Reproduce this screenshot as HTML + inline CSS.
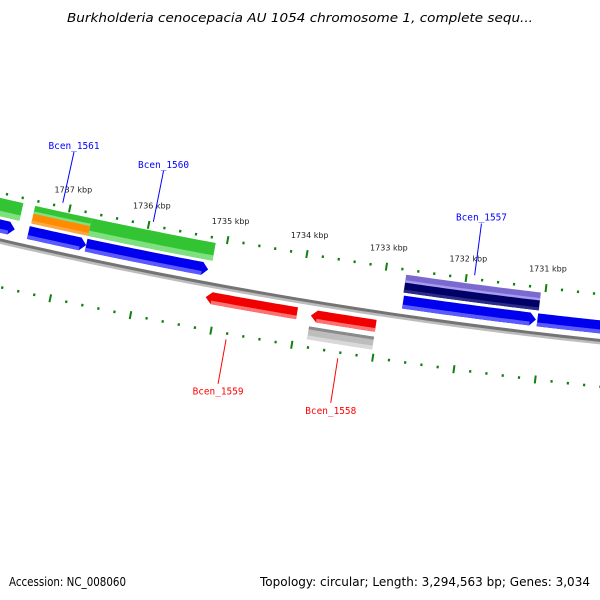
<!DOCTYPE html>
<html><head><meta charset="utf-8"><style>
html,body{margin:0;padding:0;background:#fff;}
svg{display:block;}
</style></head><body>
<svg id="map" width="600" height="600" viewBox="0 0 600 600" xmlns="http://www.w3.org/2000/svg">
<rect width="600" height="600" fill="#fff"/>
<text x="300" y="22" text-anchor="middle" font-family="'DejaVu Sans','Liberation Sans',sans-serif" font-style="italic" font-size="12.5" fill="#000" textLength="466" lengthAdjust="spacingAndGlyphs">Burkholderia cenocepacia AU 1054 chromosome 1, complete sequ...</text>
<g id="layer"></g>
<text x="9" y="586" font-family="'DejaVu Sans','Liberation Sans',sans-serif" font-size="12" fill="#000" textLength="117" lengthAdjust="spacingAndGlyphs">Accession: NC_008060</text>
<text x="590" y="586" text-anchor="end" font-family="'DejaVu Sans','Liberation Sans',sans-serif" font-size="12" fill="#000" textLength="330" lengthAdjust="spacingAndGlyphs">Topology: circular; Length: 3,294,563 bp; Genes: 3,034</text>
</svg>
<script>
// data
const tickKbp = [1738, 1737, 1736, 1735, 1734, 1733, 1732, 1731, 1730];
const tickLabels = ["1737 kbp","1736 kbp","1735 kbp","1734 kbp","1733 kbp","1732 kbp","1731 kbp"];
const labelKbp = [1737, 1736, 1735, 1734, 1733, 1732, 1731];
const featNames = ["cds-left","cds-1561","cds-1560","cds-1557","cds-right","ann-left","ann-1561-a","ann-1561-b","ann-1560","ann-1557-a","ann-1557-b","cds-1559","cds-1558","ann-1558"];
const featStart = [1738600,1737437,1736707,1732733,1731060,1738600,1737427,1737427,1736707,1732743,1732743,1735139,1733828,1733828];
const featEnd   = [1737609,1736707,1735171,1731078,1730200,1737577,1736707,1736707,1735139,1731057,1731057,1734000,1733022,1733022];
const featTrack = ["blue","blue","blue","blue","blue","upper","upperTop","upperBot","upper","upperTop","upperBot","red","red","grey"];
const featArrow = [1,1,1,1,0,0,0,0,0,0,0,-1,-1,0];
const featColor = ["#0000ee","#0000ee","#0000ee","#0000ee","#0000ee","#33c433","#33c433","#ff8c00","#33c433","#7a6ad0","#000066","#f00000","#f00000","#bdbdbd"];
const featLight = ["#5a5aff","#5a5aff","#5a5aff","#5a5aff","#5a5aff","#7ee07e","#7ee07e","#ffa640","#7ee07e","#a99cf0","#2a2a88","#ff7070","#ff7070","#d8d8d8"];
const geneLabels = ["Bcen_1561","Bcen_1560","Bcen_1557","Bcen_1559","Bcen_1558"];
const geneBp = [1737100, 1735950, 1731900, 1734800, 1733420];
const geneSide = [1, 1, 1, -1, -1];

// geometry
const CX = 1124.6, CY = -4632, R0 = 5000, PHI0 = 99.5, K = 0.931; // deg per kbp
const tracks = {blue:[4980,4993], upper:[4959,4977], upperTop:[4959,4967], upperBot:[4967,4977], red:[5008,5020], grey:[5025,5038]};
function ang(bp){ return (PHI0 + (bp/1000 - 1734)*K) * Math.PI/180; }
function pt(bp, r){ const a = ang(bp); return [CX + r*Math.cos(a), CY + r*Math.sin(a)]; }
function arcPts(b1,b2,r){ const p=[]; const n=24; for(let i=0;i<=n;i++){ p.push(pt(b1+(b2-b1)*i/n, r)); } return p; }
function fmt(ps){ return ps.map(p=>p[0].toFixed(2)+","+p[1].toFixed(2)).join(" "); }
const NS = "http://www.w3.org/2000/svg";
const layer = document.getElementById("layer");
function mk(tag, attrs){ const e=document.createElementNS(NS,tag); for(const k in attrs) e.setAttribute(k,attrs[k]); layer.appendChild(e); return e; }

// backbone
let bb = mk("polyline",{points:fmt(arcPts(1739500,1729500,R0+2.5)),fill:"none",stroke:"#bdbdbd","stroke-width":3});


let bb2 = mk("polyline",{points:fmt(arcPts(1739500,1729500,R0)),fill:"none",stroke:"#747474","stroke-width":3});



// features
const HEAD = 75;
for(let i=0;i<featNames.length;i++){
  const [r1,r2] = tracks[featTrack[i]];
  const s = featStart[i], e = featEnd[i], dir = featArrow[i];
  let poly;
  if(dir===1){
    const rm=(r1+r2)/2;
    poly = arcPts(s,e+HEAD,r1).concat([pt(e,rm)]).concat(arcPts(e+HEAD,s,r2));
  } else if(dir===-1){
    const rm=(r1+r2)/2;
    poly = [pt(s,rm)].concat(arcPts(s-HEAD,e,r1)).concat(arcPts(e,s-HEAD,r2));
  } else {
    poly = arcPts(s,e,r1).concat(arcPts(e,s,r2));
  }
  const f = mk("polygon",{points:fmt(poly),fill:featColor[i]});
  
  
  const lr1 = r2 - (r2-r1)*0.3;
  const ls = dir===-1 ? s-HEAD : s, le = dir===1 ? e+HEAD : e;
  const strip = mk("polygon",{points:fmt(arcPts(ls,le,lr1).concat(arcPts(le,ls,r2))),fill:featLight[i]});
  
  
  if(featTrack[i]==="grey"){
    const top = mk("polygon",{points:fmt(arcPts(s,e,r1).concat(arcPts(e,s,r1+3))),fill:"#8a8a8a"});
    
    
  }
}

// ticks
const tickStart = tickKbp[0]*1000, tickEnd = tickKbp[tickKbp.length-1]*1000;
for(let bp=tickStart; bp>=tickEnd; bp-=200){
  const major = (bp % 1000)===0;
  for(const [rc,nm] of [[4954,'upper'],[5046,'lower']]){
    const len = major?4:1.3;
    const a = pt(bp, rc-len), b = pt(bp, rc+len);
    const t = mk("line",{x1:a[0],y1:a[1],x2:b[0],y2:b[1],stroke:"#108010","stroke-width":major?2:2.2});
    
    
  }
}
for(let i=0;i<tickLabels.length;i++){
  const p = pt(labelKbp[i]*1000, 4937.5);
  const t = mk("text",{x:p[0],y:p[1],"text-anchor":"middle","font-family":"'DejaVu Sans','Liberation Sans',sans-serif","font-size":"8",fill:"#222"});
  t.textContent = tickLabels[i];
  
  
}

// gene labels
for(let i=0;i<geneLabels.length;i++){
  const up = geneSide[i]===1;
  const col = up ? "#0000ff" : "#ff0000";
  const a = pt(geneBp[i], up?4950:5052), b = pt(geneBp[i], up?4898:5097);
  const l = mk("line",{x1:a[0],y1:a[1],x2:b[0],y2:b[1],stroke:col,"stroke-width":1});
  
  
  const t = mk("text",{x:b[0],y:up?b[1]-3:b[1]+11,"text-anchor":"middle","font-family":"'DejaVu Sans Mono','Liberation Mono',monospace","font-size":"10",fill:col,textLength:"51",lengthAdjust:"spacingAndGlyphs"});
  t.textContent = geneLabels[i];
  
  
}
</script>
</body></html>
